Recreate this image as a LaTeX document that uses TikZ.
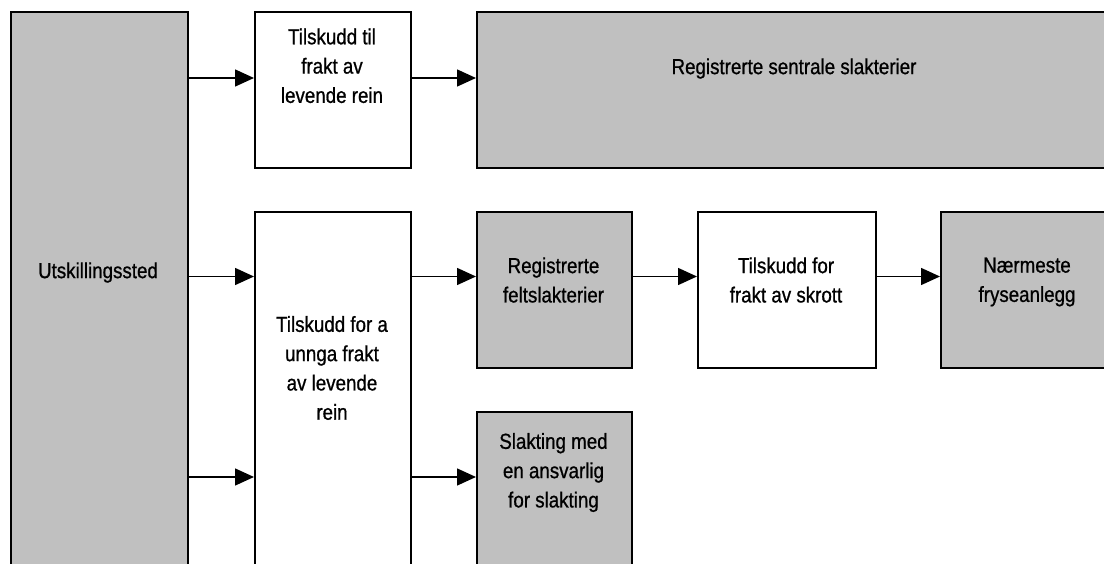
\documentclass[tikz,border=0pt]{standalone}
\usepackage{fontspec}
\setmainfont{Liberation Sans}[FakeStretch=0.86,FakeBold=0.8]
\usetikzlibrary{arrows.meta}
\definecolor{boxgray}{HTML}{C0C0C0}
\begin{document}
\begin{tikzpicture}[x=1pt,y=-1pt,
  box/.style={draw=black, line width=1.6pt, rectangle, anchor=north west, inner sep=0pt},
  gbox/.style={box, fill=boxgray},
  wbox/.style={box, fill=white},
  lbl/.style={align=center, font=\fontsize{21.8}{29.3}\selectfont, inner sep=0pt},
  arr/.style={line width=1.5pt, -{Triangle[length=19pt,width=17pt]}}]
\useasboundingbox (0,0) rectangle (1104,564);
\fill[white] (0,0) rectangle (1104,564);
\clip (0,0) rectangle (1104,564);
% boxes
\node[gbox, minimum width=177pt, minimum height=600pt] (u) at (10,11) {};
\node[wbox, minimum width=156pt, minimum height=156pt] (t1) at (254,11) {};
\node[gbox, minimum width=640pt, minimum height=156pt] (rs) at (476,11) {};
\node[wbox, minimum width=156pt, minimum height=400pt] (m) at (254,211) {};
\node[gbox, minimum width=155pt, minimum height=156pt] (f) at (476,211) {};
\node[wbox, minimum width=178pt, minimum height=156pt] (s) at (697,211) {};
\node[gbox, minimum width=180pt, minimum height=156pt] (n) at (940,211) {};
\node[gbox, minimum width=155pt, minimum height=200pt] (sl) at (476,411) {};
% texts
\node[lbl] (ut) at (98,272.5) {Utskillingssted};
\node[lbl] (t1t) at (332,65.8) {Tilskudd til\\frakt av\\levende rein};
\node[lbl] (rst) at (794,68.5) {Registrerte sentrale slakterier};
\node[lbl] (mt) at (332,368) {Tilskudd for a\\unnga frakt\\av levende\\rein};
\node[lbl] (ft) at (553.5,280) {Registrerte\\feltslakterier};
\node[lbl] (st) at (786,280) {Tilskudd for\\frakt av skrott};
\node[lbl] (nt) at (1027,282) {Nærmeste\\fryseanlegg};
\node[lbl] (slt) at (553.5,472.5) {Slakting med\\en ansvarlig\\for slakting};
% connector rows
\coordinate (ya) at (0,78);
\coordinate (yb) at (0,276.5);
\coordinate (yc) at (0,477);
\draw[arr] (u.east |- ya) -- (t1.west |- ya);
\draw[arr] (t1.east |- ya) -- (rs.west |- ya);
\draw[arr] (u.east |- yb) -- (m.west |- yb);
\draw[arr] (u.east |- yc) -- (m.west |- yc);
\draw[arr] (m.east |- yb) -- (f.west |- yb);
\draw[arr] (m.east |- yc) -- (sl.west |- yc);
\draw[arr] (f.east |- yb) -- (s.west |- yb);
\draw[arr] (s.east |- yb) -- (n.west |- yb);
\end{tikzpicture}
\end{document}
